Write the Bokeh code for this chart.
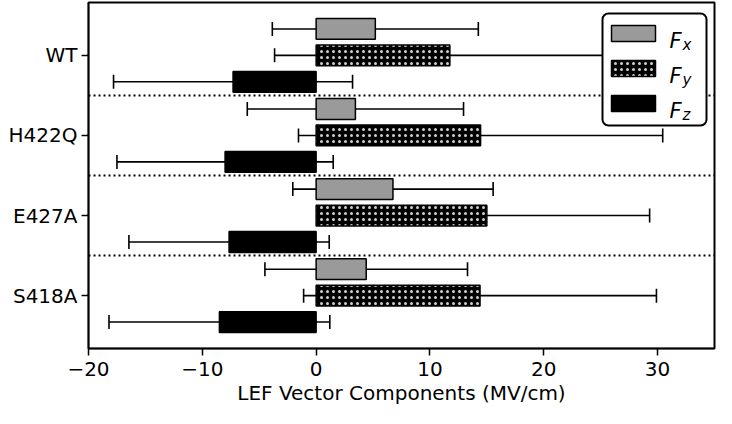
from bokeh.plotting import figure
from bokeh.models import (ColumnDataSource, FactorRange, Whisker, TeeHead, Span,
                          Label, BoxAnnotation)
from bokeh.transform import dodge
from bokeh.embed import file_html
from bokeh.resources import INLINE

# ---- data ----
mutants = ["WT", "H422Q", "E427A", "S418A"]
fx = [5.2, 3.45, 6.75, 4.4]
fx_err = [9.05, 9.5, 8.8, 8.9]
fy = [11.75, 14.45, 15.0, 14.4]
fy_err = [15.4, 16.0, 14.3, 15.5]
fz = [-7.3, -8.0, -7.65, -8.5]
fz_err = [10.5, 9.5, 8.8, 9.7]
xtick_vals = [-20, -10, 0, 10, 20, 30]
xtick_labels = ["\u221220", "\u221210", "0", "10", "20", "30"]
x_label = "LEF Vector Components (MV/cm)"
legend_main = "F"
series_names = ["x", "y", "z"]

src = ColumnDataSource(dict(
    cat=mutants,
    fx=fx, fx_lo=[m - e for m, e in zip(fx, fx_err)], fx_hi=[m + e for m, e in zip(fx, fx_err)],
    fy=fy, fy_lo=[m - e for m, e in zip(fy, fy_err)], fy_hi=[m + e for m, e in zip(fy, fy_err)],
    fz=fz, fz_lo=[m - e for m, e in zip(fz, fz_err)], fz_hi=[m + e for m, e in zip(fz, fz_err)],
))

FONT = "DejaVu Sans"
yr = FactorRange(factors=mutants[::-1], range_padding=0.08)

W, HT = 716, 408
BL, BR, BT, BB = 88, 2, 2, 60
FW, FH = W - BL - BR, HT - BT - BB

p = figure(width=W, height=HT, y_range=yr, x_range=(-20, 35),
           output_backend="svg", toolbar_location=None,
           min_border_left=BL, min_border_right=BR, min_border_top=BT, min_border_bottom=BB)

# bar styles, shared by bars and legend swatches
styles = [
    dict(fill_color="#9a9a9a"),
    dict(fill_color="black", hatch_pattern="dot", hatch_color="#cfcfcf",
         hatch_scale=6, hatch_weight=1),
    dict(fill_color="black"),
]

OFF = 0.33
H = 0.26
p.hbar(y=dodge("cat", OFF, range=yr), left=0, right="fx", height=H, source=src,
       line_color="black", line_width=1.5, **styles[0])
p.hbar(y=dodge("cat", 0, range=yr), left=0, right="fy", height=H, source=src,
       line_color="black", line_width=1.5, **styles[1])
p.hbar(y=dodge("cat", -OFF, range=yr), left="fz", right=0, height=H, source=src,
       line_color="black", line_width=1.5, **styles[2])

for off, comp in [(OFF, "fx"), (0, "fy"), (-OFF, "fz")]:
    w = Whisker(base=dodge("cat", off, range=yr), lower=comp + "_lo", upper=comp + "_hi",
                dimension="width", source=src, line_color="black", line_width=1.6,
                upper_head=TeeHead(size=14, line_width=1.6, line_color="black"),
                lower_head=TeeHead(size=14, line_width=1.6, line_color="black"))
    p.add_layout(w)

for b in range(1, len(mutants)):
    p.add_layout(Span(location=b, dimension="width", line_color="black",
                      line_width=2, line_dash="2 3"))

# axes
p.xgrid.visible = False
p.ygrid.visible = False
p.outline_line_color = "black"
p.outline_line_width = 2
p.outline_line_alpha = 1
p.xaxis.ticker = xtick_vals
p.xaxis.major_label_overrides = {v: l for v, l in zip(xtick_vals, xtick_labels)}
p.xaxis.axis_label = x_label
for ax in (p.xaxis, p.yaxis):
    ax.major_label_text_font = FONT
    ax.major_label_text_font_size = "20px"
    ax.major_label_text_color = "black"
    ax.axis_line_color = "black"
    ax.axis_line_width = 1.5
    ax.major_tick_line_color = "black"
    ax.major_tick_line_width = 1.5
    ax.major_tick_out = 7
    ax.major_tick_in = 0
    ax.minor_tick_line_color = None
p.xaxis.axis_label_text_font = FONT
p.xaxis.axis_label_text_font_size = "20px"
p.xaxis.axis_label_text_font_style = "normal"
p.xaxis.axis_label_text_color = "black"
p.xaxis.major_label_standoff = 6
p.xaxis.axis_label_standoff = 2
p.yaxis.major_label_standoff = 4

# legend, drawn as annotations in screen px relative to the plot frame
LW, LH, LSTEP = 104, 112, 35
LX = FW - 8 - LW
LTOP = 11


def sy(offset_from_box_top):
    return FH - (LTOP + offset_from_box_top)


p.add_layout(BoxAnnotation(left=LX, right=LX + LW, top=sy(0), bottom=sy(LH),
                           left_units="screen", right_units="screen",
                           top_units="screen", bottom_units="screen",
                           fill_color="white", fill_alpha=1, line_color="black",
                           line_width=2, line_alpha=1, border_radius=6, editable=False))

for i, s in enumerate(series_names):
    centre = 20 + LSTEP * i
    p.add_layout(BoxAnnotation(left=LX + 9, right=LX + 53, top=sy(centre - 8),
                               bottom=sy(centre + 8),
                               left_units="screen", right_units="screen",
                               top_units="screen", bottom_units="screen",
                               fill_alpha=1, line_color="black", line_width=1.5,
                               line_alpha=1, editable=False, **styles[i]))
    p.add_layout(Label(x=LX + 67, y=sy(centre + 7.5), x_units="screen", y_units="screen",
                       text=legend_main, text_font=FONT, text_font_size="21px",
                       text_font_style="italic", text_baseline="alphabetic",
                       text_color="black"))
    p.add_layout(Label(x=LX + 80, y=sy(centre + 11), x_units="screen", y_units="screen",
                       text=s, text_font=FONT, text_font_size="15px",
                       text_font_style="italic", text_baseline="alphabetic",
                       text_color="black"))

open("out.html", "w").write(file_html(p, INLINE))
